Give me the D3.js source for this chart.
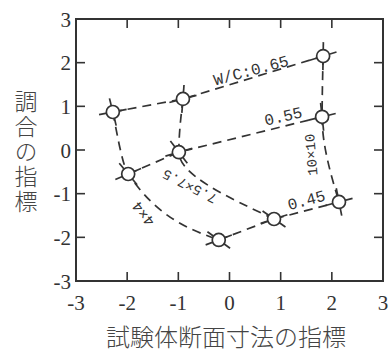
<!DOCTYPE html>
<html>
<head>
<meta charset="utf-8">
<script src="https://cdn.jsdelivr.net/npm/d3@7"></script>
<style>
  body { margin: 0; background: #fff; }
</style>
</head>
<body>
<script>
// axis ticks
const xTicks = [-3, -2, -1, 0, 1, 2, 3];
const yTicks = [-3, -2, -1, 0, 1, 2, 3];

// W/C levels (rows) and specimen sizes (columns)
const wcLabels = ["W/C:0.65", "0.55", "0.45"];
const sizeLabels = ["4×4", "7.5×7.5", "10×10"];

// points per W/C line, ordered 4x4, 7.5x7.5, 10x10
const wc065X = [-2.28, -0.91, 1.83];
const wc065Y = [0.87, 1.17, 2.15];
const wc055X = [-1.98, -0.99, 1.81];
const wc055Y = [-0.55, -0.05, 0.76];
const wc045X = [-0.21, 0.87, 2.14];
const wc045Y = [-2.06, -1.58, -1.19];

const W = 392, H = 353;
const ink = "#333";

const svg = d3.select("body").append("svg")
    .attr("width", W)
    .attr("height", H);

const x = d3.scaleLinear().domain([-3, 3]).range([76, 383]);
const y = d3.scaleLinear().domain([-3, 3]).range([281, 19]);

// rows of points
const rowsX = [wc065X, wc055X, wc045X];
const rowsY = [wc065Y, wc055Y, wc045Y];
const rows = rowsX.map((xs, i) => xs.map((v, j) => [x(v), y(rowsY[i][j])]));
const cols = [0, 1, 2].map(j => rows.map(r => r[j]));

// frame
svg.append("rect")
    .attr("x", x(-3)).attr("y", y(3))
    .attr("width", x(3) - x(-3)).attr("height", y(-3) - y(3))
    .attr("fill", "none").attr("stroke", ink).attr("stroke-width", 2);

// inward ticks on all four sides
const tl = 9;
const tickG = svg.append("g").attr("stroke", ink).attr("stroke-width", 1.6);
xTicks.slice(1, -1).forEach(t => {
    tickG.append("line").attr("x1", x(t)).attr("x2", x(t)).attr("y1", y(-3)).attr("y2", y(-3) - tl);
    tickG.append("line").attr("x1", x(t)).attr("x2", x(t)).attr("y1", y(3)).attr("y2", y(3) + tl);
});
yTicks.slice(1, -1).forEach(t => {
    tickG.append("line").attr("y1", y(t)).attr("y2", y(t)).attr("x1", x(-3)).attr("x2", x(-3) + tl);
    tickG.append("line").attr("y1", y(t)).attr("y2", y(t)).attr("x1", x(3)).attr("x2", x(3) - tl);
});

// tick labels
const numFont = "'Liberation Serif', serif";
svg.append("g").selectAll("text").data(xTicks).enter().append("text")
    .attr("x", d => x(d)).attr("y", 310)
    .attr("text-anchor", "middle")
    .style("font-family", numFont).style("font-size", "21px").attr("fill", ink)
    .text(d => d);
svg.append("g").selectAll("text").data(yTicks).enter().append("text")
    .attr("x", 71).attr("y", d => y(d)).attr("dy", "0.36em")
    .attr("text-anchor", "end")
    .style("font-family", numFont).style("font-size", "21px").attr("fill", ink)
    .text(d => d);

// axis titles
const jpFont = "'Noto Sans CJK JP', sans-serif";
svg.append("text")
    .attr("x", 226).attr("y", 338).attr("dy", "0.35em")
    .attr("text-anchor", "middle")
    .style("font-family", jpFont).style("font-size", "24px").style("font-weight", 300)
    .attr("fill", "#444")
    .text("試験体断面寸法の指標");
svg.append("text")
    .attr("x", 26).attr("y", 152)
    .attr("text-anchor", "middle")
    .style("writing-mode", "vertical-rl")
    .style("letter-spacing", "2px")
    .style("font-family", jpFont).style("font-size", "23px").style("font-weight", 300)
    .attr("fill", "#444")
    .text("調合の指標");

// dashed connecting lines
const dash = "9,6";
const lineStraight = d3.line();
const colCurves = [d3.curveMonotoneX, d3.curveMonotoneY, d3.curveMonotoneY];
svg.append("g").selectAll("path").data(rows).enter().append("path")
    .attr("d", lineStraight)
    .attr("fill", "none").attr("stroke", ink).attr("stroke-width", 1.7)
    .attr("stroke-dasharray", dash);
svg.append("g").selectAll("path").data(cols).enter().append("path")
    .attr("d", (d, i) => d3.line().curve(colCurves[i])(d))
    .attr("fill", "none").attr("stroke", ink).attr("stroke-width", 1.7)
    .attr("stroke-dasharray", dash);

// whiskers along both line directions
function tangent(pts, j) {
    const a = pts[Math.max(0, j - 1)], b = pts[Math.min(pts.length - 1, j + 1)];
    const dx = b[0] - a[0], dy = b[1] - a[1];
    const n = Math.hypot(dx, dy);
    return [dx / n, dy / n];
}
const wl = 14;
const whisk = svg.append("g").attr("stroke", ink).attr("stroke-width", 1.7);
rows.forEach((r, i) => r.forEach((p, j) => {
    [tangent(r, j), tangent(cols[j], i)].forEach(t => {
        whisk.append("line")
            .attr("x1", p[0] - t[0] * wl).attr("y1", p[1] - t[1] * wl)
            .attr("x2", p[0] + t[0] * wl).attr("y2", p[1] + t[1] * wl);
    });
}));

// open circle markers
svg.append("g").selectAll("circle").data(rows.flat()).enter().append("circle")
    .attr("cx", d => d[0]).attr("cy", d => d[1]).attr("r", 6.5)
    .attr("fill", "#fff").attr("stroke", ink).attr("stroke-width", 1.7);

// line labels
const lblFont = "'Liberation Mono', monospace";
const labels = [
    { t: wcLabels[0], px: 0.42, py: 1.83, r: -15, s: 16 },
    { t: wcLabels[1], px: 1.05, py: 0.78, r: -13, s: 16 },
    { t: wcLabels[2], px: 1.50, py: -1.14, r: -15, s: 16 },
    { t: sizeLabels[0], px: -1.69, py: -1.47, r: 232, s: 15 },
    { t: sizeLabels[1], px: -0.78, py: -0.84, r: 207, s: 14 },
    { t: sizeLabels[2], px: 1.59, py: -0.11, r: -95, s: 14 }
];
svg.append("g").selectAll("text").data(labels).enter().append("text")
    .attr("transform", d => "translate(" + x(d.px) + "," + y(d.py) + ")rotate(" + d.r + ")")
    .attr("text-anchor", "middle").attr("dy", "0.35em")
    .style("font-family", lblFont).style("font-size", d => d.s + "px")
    .attr("fill", ink)
    .text(d => d.t);
</script>
</body>
</html>
